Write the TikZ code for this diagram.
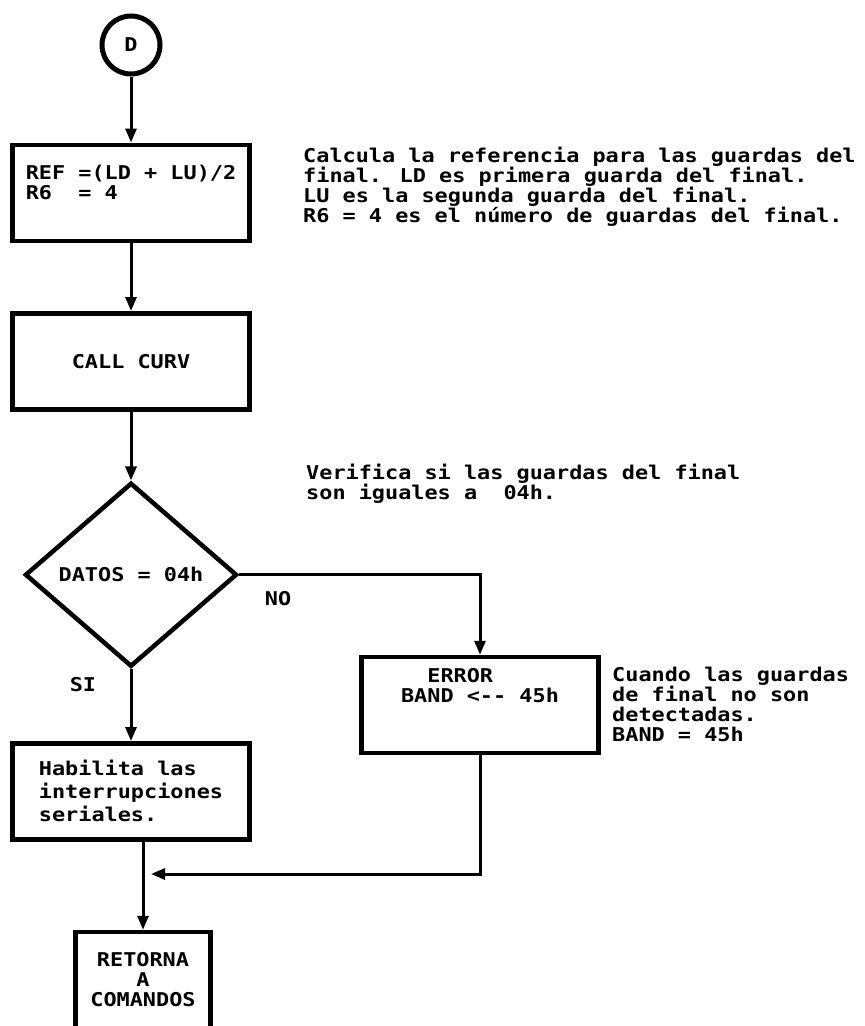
\documentclass[tikz,border=0pt]{standalone}
\usepackage{fontspec}
\usetikzlibrary{arrows.meta,positioning,shapes.geometric}
\newfontfamily\pcfont[FakeStretch=1.15,WordSpace={1,0,0}]{DejaVu Sans Mono}
\newcommand\pcletra{\pcfont\bfseries\fontsize{19}{20}\selectfont}
\tikzset{
  caja/.style={draw, line width=4.5pt, minimum width=237pt, minimum height=96pt,
               inner sep=4pt, align=center, font=\pcletra},
  decision/.style={diamond, draw, line width=4.5pt, minimum width=212pt,
                   minimum height=184pt, inner sep=0pt, font=\pcletra},
  conector/.style={circle, draw, line width=5pt, minimum size=58pt, inner sep=0pt,
                   font=\pcletra},
  flecha/.style={-{Triangle[length=14pt,width=11pt]}, line width=3pt},
  nota/.style={anchor=west, align=left, inner sep=0pt, font=\pcletra},
  rotulo/.style={inner sep=0pt, font=\pcletra},
}
\begin{document}
\begin{tikzpicture}[x=1pt,y=-1pt]
  \useasboundingbox (0,0) rectangle (865,1026);
  % columna principal
  \node[conector] (d) at (131,45) {D};
  \node[caja, below=66pt of d, align=left] (ref)
       {REF =(LD + LU)/2\\R6\ \ = 4\\\mbox{}};
  \node[caja, below=68pt of ref] (call) {CALL CURV};
  \node[decision, below=69pt of call] (dec) {DATOS = 04h};
  \node[caja, below=72pt of dec, align=left,
        font=\pcfont\bfseries\fontsize{19}{23}\selectfont] (hab)
       {Habilita las\\interrupciones\\seriales.};
  \node[caja, align=left] (error) at (480,705)
       {\phantom{XX}ERROR\\BAND <-{}- 45h\\\mbox{}\\\mbox{}};
  \node[caja, minimum width=135pt] (ret) at (143,980) {RETORNA\\A\\COMANDOS};
  % conectores
  \draw[flecha] (d) -- (ref);
  \draw[flecha] (ref) -- (call);
  \draw[flecha] (call) -- (dec);
  \draw[flecha] (dec) -- (hab);
  \draw[flecha] (dec.east) -| (error.north);
  \coordinate (junta) at (151,874);
  \draw[flecha] (error.south) |- (junta);
  \draw[flecha] (hab.south -| ret.north) -- (ret.north);
  \node[rotulo] (no) at (278,599) {NO};
  \node[rotulo] (si) at (83,685) {SI};
  % comentarios
  \node[nota] (nref) at (303,187)
       {Calcula la referencia para las guardas del\\final. LD es primera guarda del final.\\LU es la segunda guarda del final.\\R6 = 4 es el número de guardas del final.};
  \node[nota] (ndec) at (306,484)
       {Verifica si las guardas del final\\son iguales a\ \ 04h.};
  \node[nota] (nerr) at (612,704)
       {Cuando las guardas\\de final no son\\detectadas.\\BAND = 45h};
\end{tikzpicture}
\end{document}
